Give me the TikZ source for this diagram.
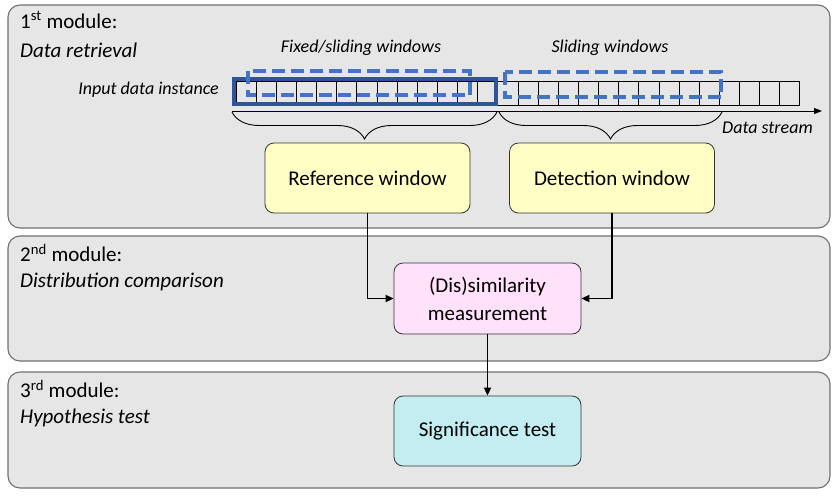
\documentclass[tikz,border=0pt]{standalone}
\usepackage{fontspec}
\setmainfont{Carlito}
\usetikzlibrary{arrows.meta,decorations.pathreplacing}
\definecolor{modfill}{HTML}{E7E6E6}
\definecolor{modline}{HTML}{707070}
\definecolor{winblue}{HTML}{4472C4}
\definecolor{framblue}{HTML}{2F5597}
\definecolor{refyellow}{HTML}{FFFFC5}
\definecolor{dispink}{HTML}{FFE1FA}
\definecolor{sigcyan}{HTML}{C3EDF1}
\begin{document}
\begin{tikzpicture}[x=1pt,y=-1pt]
\tikzstyle{module}=[draw=modline,fill=modfill,rounded corners=12pt,line width=1.1pt]
\tikzstyle{block}=[draw=black!80,rounded corners=9pt,minimum width=205pt,minimum height=70pt,align=center,line width=0.8pt,font=\fontsize{21}{28}\selectfont]
\tikzstyle{title}=[anchor=west,inner sep=0pt,font=\fontsize{21}{25}\selectfont]
\tikzstyle{note}=[inner sep=0pt,font=\fontsize{18}{22}\selectfont\itshape]
\tikzstyle{slide}=[draw=winblue,line width=4pt,dash pattern=on 13pt off 6pt]
\tikzstyle{arr}=[-{Triangle[length=8pt,width=7pt]},line width=1.8pt]
\useasboundingbox (0,0) rectangle (837,496);
% modules
\draw[module] (8,5) rectangle (830,228);
\draw[module] (8,236) rectangle (830,361);
\draw[module] (8,372) rectangle (830,488);
\node[title] (m1) at (20,20) {1\textsuperscript{st} module:};
\node[title] (m1b) at (20,50) {\itshape Data retrieval};
\node[title] (m2) at (20,253) {2\textsuperscript{nd} module:};
\node[title] (m2b) at (20,282) {\itshape Distribution comparison};
\node[title] (m3) at (20,389) {3\textsuperscript{rd} module:};
\node[title] (m3b) at (20,418) {\itshape Hypothesis test};
% data stream
\node[note,anchor=east] (inp) at (219,90) {Input data instance};
\node[note] (fixw) at (361,48) {Fixed/sliding windows};
\node[note] (slidw) at (610,48) {Sliding windows};
\foreach \i in {0,...,27}
  \draw[line width=0.9pt] (236+20.14*\i,81) rectangle (256.14+20.14*\i,105);
\draw[framblue,line width=4pt] (234,78.5) rectangle (496,104);
\draw[slide] (247.5,71) rectangle (470,95);
\draw[slide] (504.5,72) rectangle (721,97);
\coordinate (s0) at (232,111);
\coordinate (s1) at (822,111);
\draw[-{Triangle[length=8pt,width=6pt]},line width=0.9pt] (s0) -- (s1);
\node[note,anchor=west] (strm) at (722,128) {Data stream};
\draw[decorate,decoration={brace,mirror,amplitude=27pt},line width=0.9pt] (232,112) -- (497,112);
\draw[decorate,decoration={brace,mirror,amplitude=27pt},line width=0.9pt] (499,112) -- (722,112);
% blocks
\node[block,fill=refyellow] (ref) at (367.5,178) {Reference window};
\node[block,fill=refyellow] (det) at (612,178) {Detection window};
\node[block,fill=dispink,minimum width=187pt,minimum height=71pt] (dis) at (487.5,298.5) {(Dis)similarity\\measurement};
\node[block,fill=sigcyan,minimum width=187pt,minimum height=70pt] (sig) at (487.5,431) {Significance test};
\draw[arr] (ref.south) |- (dis.west);
\draw[arr] (det.south) |- (dis.east);
\draw[arr] (dis) -- (sig);
\end{tikzpicture}
\end{document}
